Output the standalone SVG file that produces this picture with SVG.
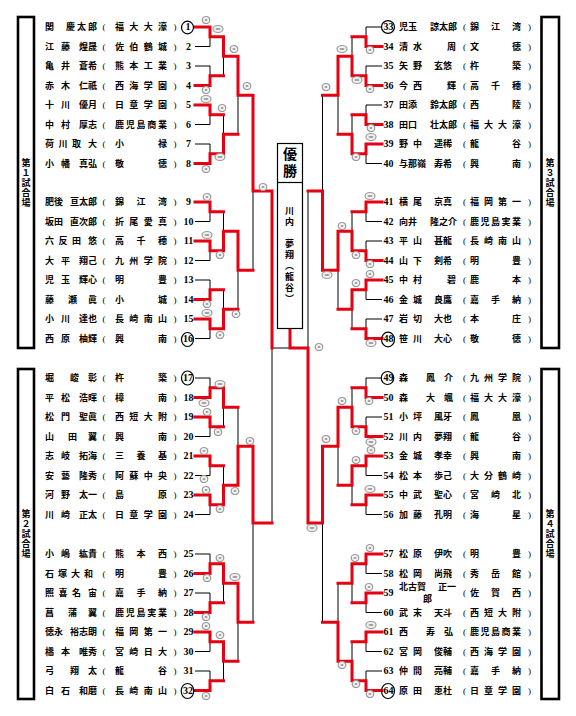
<svg xmlns="http://www.w3.org/2000/svg" width="576" height="716" viewBox="0 0 576 716">
<style>
.t{font-family:"Noto Sans CJK JP","Noto Sans CJK SC",sans-serif;font-size:9px;font-weight:bold;fill:#000}
.p{font-family:"Liberation Serif",serif;font-size:9px;text-anchor:middle;fill:#000}
.n{font-family:"Liberation Serif",serif;font-size:10px;font-weight:bold;text-anchor:middle;fill:#000}
.v{font-family:"Noto Sans CJK JP",sans-serif;font-size:9px;font-weight:bold;fill:#000;writing-mode:vertical-rl;letter-spacing:1px}
.c{fill:none;stroke:#000;stroke-width:1.2}
.box{fill:none;stroke:#000;stroke-width:2.6}
.bk{fill:none;stroke:#000;stroke-width:1}
.rd{fill:none;stroke:#e60012;stroke-width:3;stroke-linecap:square;stroke-linejoin:miter}
.w1{font-family:"Noto Sans CJK JP",sans-serif;font-size:14px;font-weight:bold;writing-mode:vertical-rl;letter-spacing:3px}
.w2{font-family:"Noto Sans CJK JP",sans-serif;font-size:9px;font-weight:bold;writing-mode:vertical-rl;letter-spacing:2px}
</style>
<defs>
<g id="sc"><ellipse rx="3.8" ry="3.5" fill="#f2f2f2" stroke="#9a9a9a" stroke-width="1.2"/><ellipse rx="1.5" ry="1.1" fill="#9a9a9a"/></g>
<g id="sw"><ellipse rx="5" ry="3.5" fill="#f2f2f2" stroke="#9a9a9a" stroke-width="1.2"/><ellipse rx="2.6" ry="1.1" fill="#9a9a9a"/></g>
</defs>
<rect width="576" height="716" fill="#fff"/>

<g id="venue1"><rect class="box" x="18" y="17" width="16" height="331"/><text class="v" x="26" y="158">第１試合場</text></g>
<g id="venue2"><rect class="box" x="18" y="369" width="16" height="330"/><text class="v" x="26" y="509">第２試合場</text></g>
<g id="venue3"><rect class="box" x="541.5" y="17" width="17.5" height="331"/><text class="v" x="550" y="158">第３試合場</text></g>
<g id="venue4"><rect class="box" x="541.5" y="369" width="17.5" height="330"/><text class="v" x="550" y="509">第４試合場</text></g>

<g id="connectors">
<path class="bk" d="M195 27H210V46.5H195M195 66H210V85.5H195M195 105H210V124.5H195M195 144H210V163.5H195M195 202H210V221.5H195M195 241H210V260.5H195M195 280H210V299.5H195M195 319H210V338.5H195M195 378H210V397.5H195M195 417H210V436.5H195M195 456H210V475.5H195M195 495H210V514.5H195M195 554H210V573.5H195M195 593H210V612.5H195M195 632H210V651.5H195M195 671H210V690.5H195M223.5 36.75V75.75M223.5 114.75V153.75M223.5 211.75V250.75M223.5 289.75V328.75M223.5 387.75V426.75M223.5 465.75V504.75M223.5 563.75V602.75M223.5 641.75V680.75M238 56.25V134.25M238 231.25V309.25M238 407.25V485.25M238 583.25V661.25M253 95.25V270.25M253 446.25V622.25M272 191V523M272 348H308"/>
<path class="bk" d="M382 27H366V46.5H382M382 66H366V85.5H382M382 105H366V124.5H382M382 144H366V163.5H382M382 202H366V221.5H382M382 241H366V260.5H382M382 280H366V299.5H382M382 319H366V338.5H382M382 378H366V397.5H382M382 417H366V436.5H382M382 456H366V475.5H382M382 495H366V514.5H382M382 554H366V573.5H382M382 593H366V612.5H382M382 632H366V651.5H382M382 671H366V690.5H382M352 36.75V75.75M352 114.75V153.75M352 211.75V250.75M352 289.75V328.75M352 387.75V426.75M352 465.75V504.75M352 563.75V602.75M352 641.75V680.75M338 56.25V134.25M338 231.25V309.25M338 407.25V485.25M338 583.25V661.25M322.5 95.25V270.25M322.5 446.25V622.25M308 191V523"/>
<path class="rd" d="M195 27H210V36.75H223.5M195 85.5H210V75.75H223.5M195 105H210V114.75H223.5M195 163.5H210V153.75H223.5M195 202H210V211.75H223.5M195 241H210V250.75H223.5M195 299.5H210V289.75H223.5M195 319H210V328.75H223.5M195 397.5H210V387.75H223.5M195 417H210V426.75H223.5M195 456H210V465.75H223.5M195 495H210V504.75H223.5M195 573.5H210V563.75H223.5M195 612.5H210V602.75H223.5M195 632H210V641.75H223.5M195 690.5H210V680.75H223.5M223.5 36.75V56.25H238M223.5 153.75V134.25H238M223.5 250.75V231.25H238M223.5 328.75V309.25H238M223.5 387.75V407.25H238M223.5 504.75V485.25H238M223.5 563.75V583.25H238M223.5 641.75V661.25H238M238 56.25V95.25H253M238 231.25V270.25H253M238 485.25V446.25H253M238 583.25V622.25H253M253 95.25V191H272M253 446.25V523H272M272 191V348"/>
<path class="rd" d="M382 46.5H366V36.75H352M382 85.5H366V75.75H352M382 124.5H366V114.75H352M382 144H366V153.75H352M382 202H366V211.75H352M382 260.5H366V250.75H352M382 280H366V289.75H352M382 338.5H366V328.75H352M382 397.5H366V387.75H352M382 436.5H366V426.75H352M382 456H366V465.75H352M382 495H366V504.75H352M382 554H366V563.75H352M382 593H366V602.75H352M382 632H366V641.75H352M382 690.5H366V680.75H352M352 75.75V56.25H338M352 153.75V134.25H338M352 250.75V231.25H338M352 289.75V309.25H338M352 426.75V407.25H338M352 465.75V485.25H338M352 563.75V583.25H338M352 680.75V661.25H338M338 56.25V95.25H322.5M338 231.25V270.25H322.5M338 407.25V446.25H322.5M338 661.25V622.25H322.5M322.5 270.25V191H308M322.5 446.25V523H308M308 523V348H290V329"/>
</g>

<g id="champion">
<rect x="277.5" y="143.5" width="25" height="185" fill="#fff" stroke="#000" stroke-width="1.2"/>
<line x1="277.5" y1="182.5" x2="302.5" y2="182.5" stroke="#000" stroke-width="1.2"/>
<text class="w1" x="290" y="147">優勝</text>
<text class="w2" x="289.5" y="206">川内　夢翔（龍谷）</text>
</g>

<g id="scores">
<use href="#sc" x="206" y="20"/><use href="#sc" x="234" y="49"/><use href="#sc" x="247" y="86"/><use href="#sc" x="206" y="90"/><use href="#sc" x="222" y="108"/><use href="#sc" x="206" y="169"/><use href="#sc" x="263" y="187"/><use href="#sc" x="207" y="197"/><use href="#sc" x="220" y="255"/><use href="#sc" x="207" y="304"/><use href="#sc" x="236" y="314"/><use href="#sc" x="220" y="335"/><use href="#sc" x="207" y="412"/><use href="#sc" x="218" y="432"/><use href="#sc" x="250" y="441"/><use href="#sc" x="204" y="451"/><use href="#sc" x="204" y="479"/><use href="#sc" x="206" y="490"/><use href="#sc" x="235" y="491"/><use href="#sc" x="220" y="509"/><use href="#sc" x="220" y="558"/><use href="#sc" x="207" y="578"/><use href="#sc" x="206" y="617"/><use href="#sc" x="206" y="626"/><use href="#sc" x="220" y="635"/><use href="#sc" x="206" y="696"/>
<use href="#sw" x="218" y="29"/><use href="#sw" x="206" y="99"/><use href="#sw" x="220" y="157"/><use href="#sw" x="207" y="235"/><use href="#sw" x="207" y="313"/><use href="#sw" x="220" y="384"/><use href="#sw" x="204" y="403"/><use href="#sw" x="235" y="577"/>
<use href="#sc" x="319" y="347"/><use href="#sc" x="326" y="439"/><use href="#sw" x="327" y="275"/><use href="#sw" x="312" y="528"/>
<use href="#sc" x="326" y="87"/><use href="#sc" x="370" y="50"/><use href="#sc" x="370" y="89"/><use href="#sc" x="371" y="128"/><use href="#sc" x="356" y="157"/><use href="#sc" x="342" y="226"/><use href="#sc" x="356" y="255"/><use href="#sc" x="370" y="264"/><use href="#sc" x="370" y="274"/><use href="#sc" x="356" y="283"/><use href="#sc" x="342" y="401"/><use href="#sc" x="369" y="401"/><use href="#sc" x="356" y="431"/><use href="#sc" x="371" y="450"/><use href="#sc" x="356" y="460"/><use href="#sc" x="370" y="548"/><use href="#sc" x="355" y="558"/><use href="#sc" x="369" y="587"/><use href="#sc" x="342" y="665"/><use href="#sc" x="356" y="684"/><use href="#sc" x="370" y="694"/>
<use href="#sw" x="342" y="49"/><use href="#sw" x="357" y="80"/><use href="#sw" x="371" y="137"/><use href="#sw" x="370" y="196"/><use href="#sw" x="371" y="343"/><use href="#sw" x="371" y="442"/><use href="#sw" x="370" y="489"/><use href="#sw" x="371" y="625"/>
</g>

<g id="p1" transform="translate(0,27)"><text class="t" x="45" y="3.4">関</text><text class="t" x="66" y="3.4" textLength="31">慶太郎</text><text class="p" x="104" y="3.2">(</text><text class="t" x="115" y="3.4" textLength="52">福大大濠</text><text class="p" x="175" y="3.2">)</text><text class="n" x="188" y="3.4">1</text><ellipse class="c" cx="187.5" cy="0.5" rx="6" ry="6.3"/></g>
<g id="p2" transform="translate(0,46.5)"><text class="t" x="45" y="3.4" textLength="25">江藤</text><text class="t" x="79" y="3.4">煌晟</text><text class="p" x="104" y="3.2">(</text><text class="t" x="115" y="3.4" textLength="52">佐伯鶴城</text><text class="p" x="175" y="3.2">)</text><text class="n" x="188.5" y="3.4">2</text></g>
<g id="p3" transform="translate(0,66)"><text class="t" x="45" y="3.4" textLength="25">亀井</text><text class="t" x="79" y="3.4">蒼希</text><text class="p" x="104" y="3.2">(</text><text class="t" x="115" y="3.4" textLength="52">熊本工業</text><text class="p" x="175" y="3.2">)</text><text class="n" x="188.5" y="3.4">3</text></g>
<g id="p4" transform="translate(0,85.5)"><text class="t" x="45" y="3.4" textLength="25">赤木</text><text class="t" x="79" y="3.4">仁祇</text><text class="p" x="104" y="3.2">(</text><text class="t" x="115" y="3.4" textLength="52">西海学園</text><text class="p" x="175" y="3.2">)</text><text class="n" x="188.5" y="3.4">4</text></g>
<g id="p5" transform="translate(0,105)"><text class="t" x="45" y="3.4" textLength="25">十川</text><text class="t" x="79" y="3.4">優月</text><text class="p" x="104" y="3.2">(</text><text class="t" x="115" y="3.4" textLength="52">日章学園</text><text class="p" x="175" y="3.2">)</text><text class="n" x="188.5" y="3.4">5</text></g>
<g id="p6" transform="translate(0,124.5)"><text class="t" x="45" y="3.4" textLength="25">中村</text><text class="t" x="79" y="3.4">厚志</text><text class="p" x="104" y="3.2">(</text><text class="t" x="115" y="3.4" textLength="52">鹿児島商業</text><text class="p" x="175" y="3.2">)</text><text class="n" x="188.5" y="3.4">6</text></g>
<g id="p7" transform="translate(0,144)"><text class="t" x="45" y="3.4" textLength="36">荷川取</text><text class="t" x="88" y="3.4">大</text><text class="p" x="104" y="3.2">(</text><text class="t" x="115" y="3.4" textLength="52">小禄</text><text class="p" x="175" y="3.2">)</text><text class="n" x="188.5" y="3.4">7</text></g>
<g id="p8" transform="translate(0,163.5)"><text class="t" x="45" y="3.4" textLength="25">小幡</text><text class="t" x="79" y="3.4">真弘</text><text class="p" x="104" y="3.2">(</text><text class="t" x="115" y="3.4" textLength="52">敬徳</text><text class="p" x="175" y="3.2">)</text><text class="n" x="188.5" y="3.4">8</text></g>
<g id="p9" transform="translate(0,202)"><text class="t" x="45" y="3.4">肥後</text><text class="t" x="70" y="3.4">亘太郎</text><text class="p" x="104" y="3.2">(</text><text class="t" x="115" y="3.4" textLength="52">錦江湾</text><text class="p" x="175" y="3.2">)</text><text class="n" x="188.5" y="3.4">9</text></g>
<g id="p10" transform="translate(0,221.5)"><text class="t" x="45" y="3.4">坂田</text><text class="t" x="70" y="3.4">直次郎</text><text class="p" x="104" y="3.2">(</text><text class="t" x="115" y="3.4" textLength="52">折尾愛真</text><text class="p" x="175" y="3.2">)</text><text class="n" x="188.5" y="3.4">10</text></g>
<g id="p11" transform="translate(0,241)"><text class="t" x="45" y="3.4" textLength="36">六反田</text><text class="t" x="88" y="3.4">悠</text><text class="p" x="104" y="3.2">(</text><text class="t" x="115" y="3.4" textLength="52">高千穂</text><text class="p" x="175" y="3.2">)</text><text class="n" x="188.5" y="3.4">11</text></g>
<g id="p12" transform="translate(0,260.5)"><text class="t" x="45" y="3.4" textLength="25">大平</text><text class="t" x="79" y="3.4">翔己</text><text class="p" x="104" y="3.2">(</text><text class="t" x="115" y="3.4" textLength="52">九州学院</text><text class="p" x="175" y="3.2">)</text><text class="n" x="188.5" y="3.4">12</text></g>
<g id="p13" transform="translate(0,280)"><text class="t" x="45" y="3.4" textLength="25">児玉</text><text class="t" x="79" y="3.4">輝心</text><text class="p" x="104" y="3.2">(</text><text class="t" x="115" y="3.4" textLength="52">明豊</text><text class="p" x="175" y="3.2">)</text><text class="n" x="188.5" y="3.4">13</text></g>
<g id="p14" transform="translate(0,299.5)"><text class="t" x="45" y="3.4" textLength="32">藤瀬</text><text class="t" x="88" y="3.4">眞</text><text class="p" x="104" y="3.2">(</text><text class="t" x="115" y="3.4" textLength="52">小城</text><text class="p" x="175" y="3.2">)</text><text class="n" x="188.5" y="3.4">14</text></g>
<g id="p15" transform="translate(0,319)"><text class="t" x="45" y="3.4" textLength="25">小川</text><text class="t" x="79" y="3.4">達也</text><text class="p" x="104" y="3.2">(</text><text class="t" x="115" y="3.4" textLength="52">長崎南山</text><text class="p" x="175" y="3.2">)</text><text class="n" x="188.5" y="3.4">15</text></g>
<g id="p16" transform="translate(0,338.5)"><text class="t" x="45" y="3.4" textLength="25">西原</text><text class="t" x="79" y="3.4">柚輝</text><text class="p" x="104" y="3.2">(</text><text class="t" x="115" y="3.4" textLength="52">興南</text><text class="p" x="175" y="3.2">)</text><text class="n" x="188" y="3.4">16</text><ellipse class="c" cx="187.5" cy="1" rx="6" ry="7"/></g>
<g id="p17" transform="translate(0,378)"><text class="t" x="45" y="3.4">堀</text><text class="t" x="70" y="3.4" textLength="27">峻彰</text><text class="p" x="104" y="3.2">(</text><text class="t" x="115" y="3.4" textLength="52">杵築</text><text class="p" x="175" y="3.2">)</text><text class="n" x="188" y="3.4">17</text><ellipse class="c" cx="187.5" cy="0" rx="6" ry="7"/></g>
<g id="p18" transform="translate(0,397.5)"><text class="t" x="45" y="3.4" textLength="25">平松</text><text class="t" x="79" y="3.4">浩暉</text><text class="p" x="104" y="3.2">(</text><text class="t" x="115" y="3.4" textLength="52">樟南</text><text class="p" x="175" y="3.2">)</text><text class="n" x="188.5" y="3.4">18</text></g>
<g id="p19" transform="translate(0,417)"><text class="t" x="45" y="3.4" textLength="25">松門</text><text class="t" x="79" y="3.4">聖眞</text><text class="p" x="104" y="3.2">(</text><text class="t" x="115" y="3.4" textLength="52">西短大附</text><text class="p" x="175" y="3.2">)</text><text class="n" x="188.5" y="3.4">19</text></g>
<g id="p20" transform="translate(0,436.5)"><text class="t" x="45" y="3.4" textLength="32">山田</text><text class="t" x="88" y="3.4">翼</text><text class="p" x="104" y="3.2">(</text><text class="t" x="115" y="3.4" textLength="52">興南</text><text class="p" x="175" y="3.2">)</text><text class="n" x="188.5" y="3.4">20</text></g>
<g id="p21" transform="translate(0,456)"><text class="t" x="45" y="3.4" textLength="25">志岐</text><text class="t" x="79" y="3.4">拓海</text><text class="p" x="104" y="3.2">(</text><text class="t" x="115" y="3.4" textLength="52">三養基</text><text class="p" x="175" y="3.2">)</text><text class="n" x="188.5" y="3.4">21</text></g>
<g id="p22" transform="translate(0,475.5)"><text class="t" x="45" y="3.4" textLength="25">安藝</text><text class="t" x="79" y="3.4">隆秀</text><text class="p" x="104" y="3.2">(</text><text class="t" x="115" y="3.4" textLength="52">阿蘇中央</text><text class="p" x="175" y="3.2">)</text><text class="n" x="188.5" y="3.4">22</text></g>
<g id="p23" transform="translate(0,495)"><text class="t" x="45" y="3.4" textLength="25">河野</text><text class="t" x="79" y="3.4">太一</text><text class="p" x="104" y="3.2">(</text><text class="t" x="115" y="3.4" textLength="52">島原</text><text class="p" x="175" y="3.2">)</text><text class="n" x="188.5" y="3.4">23</text></g>
<g id="p24" transform="translate(0,514.5)"><text class="t" x="45" y="3.4" textLength="25">川崎</text><text class="t" x="79" y="3.4">正太</text><text class="p" x="104" y="3.2">(</text><text class="t" x="115" y="3.4" textLength="52">日章学園</text><text class="p" x="175" y="3.2">)</text><text class="n" x="188.5" y="3.4">24</text></g>
<g id="p25" transform="translate(0,554)"><text class="t" x="45" y="3.4" textLength="25">小嶋</text><text class="t" x="79" y="3.4">紘貴</text><text class="p" x="104" y="3.2">(</text><text class="t" x="115" y="3.4" textLength="52">熊本西</text><text class="p" x="175" y="3.2">)</text><text class="n" x="188.5" y="3.4">25</text></g>
<g id="p26" transform="translate(0,573.5)"><text class="t" x="45" y="3.4" textLength="48">石塚大和</text><text class="p" x="104" y="3.2">(</text><text class="t" x="115" y="3.4" textLength="52">明豊</text><text class="p" x="175" y="3.2">)</text><text class="n" x="188.5" y="3.4">26</text></g>
<g id="p27" transform="translate(0,593)"><text class="t" x="45" y="3.4" textLength="36">照喜名</text><text class="t" x="88" y="3.4">宙</text><text class="p" x="104" y="3.2">(</text><text class="t" x="115" y="3.4" textLength="52">嘉手納</text><text class="p" x="175" y="3.2">)</text><text class="n" x="188.5" y="3.4">27</text></g>
<g id="p28" transform="translate(0,612.5)"><text class="t" x="45" y="3.4" textLength="32">菖蒲</text><text class="t" x="88" y="3.4">翼</text><text class="p" x="104" y="3.2">(</text><text class="t" x="115" y="3.4" textLength="52">鹿児島実業</text><text class="p" x="175" y="3.2">)</text><text class="n" x="188.5" y="3.4">28</text></g>
<g id="p29" transform="translate(0,632)"><text class="t" x="45" y="3.4">徳永</text><text class="t" x="70" y="3.4">裕志朗</text><text class="p" x="104" y="3.2">(</text><text class="t" x="115" y="3.4" textLength="52">福岡第一</text><text class="p" x="175" y="3.2">)</text><text class="n" x="188.5" y="3.4">29</text></g>
<g id="p30" transform="translate(0,651.5)"><text class="t" x="45" y="3.4" textLength="25">橋本</text><text class="t" x="79" y="3.4">唯秀</text><text class="p" x="104" y="3.2">(</text><text class="t" x="115" y="3.4" textLength="52">宮崎日大</text><text class="p" x="175" y="3.2">)</text><text class="n" x="188.5" y="3.4">30</text></g>
<g id="p31" transform="translate(0,671)"><text class="t" x="45" y="3.4">弓</text><text class="t" x="70" y="3.4" textLength="27">翔太</text><text class="p" x="104" y="3.2">(</text><text class="t" x="115" y="3.4" textLength="52">龍谷</text><text class="p" x="175" y="3.2">)</text><text class="n" x="188.5" y="3.4">31</text></g>
<g id="p32" transform="translate(0,690.5)"><text class="t" x="45" y="3.4" textLength="25">白石</text><text class="t" x="79" y="3.4">和磨</text><text class="p" x="104" y="3.2">(</text><text class="t" x="115" y="3.4" textLength="52">長崎南山</text><text class="p" x="175" y="3.2">)</text><text class="n" x="188" y="3.4">32</text><ellipse class="c" cx="187.5" cy="0.5" rx="6.3" ry="7.5"/></g>

<g id="p33" transform="translate(0,27)"><text class="n" x="388.5" y="3.4">33</text><ellipse class="c" cx="388" cy="0" rx="6.5" ry="6.3"/><text class="t" x="399" y="3.4">児玉</text><text class="t" x="430" y="3.4">諒太郎</text><text class="p" x="464.5" y="3.2">(</text><text class="t" x="470" y="3.4" textLength="51">錦江湾</text><text class="p" x="529.5" y="3.2">)</text></g>
<g id="p34" transform="translate(0,46.5)"><text class="n" x="388.5" y="3.4">34</text><text class="t" x="399" y="3.4" textLength="23">清水</text><text class="t" x="447" y="3.4">周</text><text class="p" x="464.5" y="3.2">(</text><text class="t" x="470" y="3.4" textLength="51">文徳</text><text class="p" x="529.5" y="3.2">)</text></g>
<g id="p35" transform="translate(0,66)"><text class="n" x="388.5" y="3.4">35</text><text class="t" x="399" y="3.4" textLength="23">矢野</text><text class="t" x="434" y="3.4">玄悠</text><text class="p" x="464.5" y="3.2">(</text><text class="t" x="470" y="3.4" textLength="51">杵築</text><text class="p" x="529.5" y="3.2">)</text></g>
<g id="p36" transform="translate(0,85.5)"><text class="n" x="388.5" y="3.4">36</text><text class="t" x="399" y="3.4" textLength="23">今西</text><text class="t" x="447" y="3.4">輝</text><text class="p" x="464.5" y="3.2">(</text><text class="t" x="470" y="3.4" textLength="51">高千穂</text><text class="p" x="529.5" y="3.2">)</text></g>
<g id="p37" transform="translate(0,105)"><text class="n" x="388.5" y="3.4">37</text><text class="t" x="399" y="3.4">田添</text><text class="t" x="430" y="3.4">鈴太郎</text><text class="p" x="464.5" y="3.2">(</text><text class="t" x="470" y="3.4" textLength="51">西陵</text><text class="p" x="529.5" y="3.2">)</text></g>
<g id="p38" transform="translate(0,124.5)"><text class="n" x="388.5" y="3.4">38</text><text class="t" x="399" y="3.4">田口</text><text class="t" x="430" y="3.4">壮太郎</text><text class="p" x="464.5" y="3.2">(</text><text class="t" x="470" y="3.4" textLength="51">福大大濠</text><text class="p" x="529.5" y="3.2">)</text></g>
<g id="p39" transform="translate(0,144)"><text class="n" x="388.5" y="3.4">39</text><text class="t" x="399" y="3.4" textLength="23">野中</text><text class="t" x="434" y="3.4">遥稀</text><text class="p" x="464.5" y="3.2">(</text><text class="t" x="470" y="3.4" textLength="51">龍谷</text><text class="p" x="529.5" y="3.2">)</text></g>
<g id="p40" transform="translate(0,163.5)"><text class="n" x="388.5" y="3.4">40</text><text class="t" x="399" y="3.4">与那嶺</text><text class="t" x="434" y="3.4">寿希</text><text class="p" x="464.5" y="3.2">(</text><text class="t" x="470" y="3.4" textLength="51">興南</text><text class="p" x="529.5" y="3.2">)</text></g>
<g id="p41" transform="translate(0,202)"><text class="n" x="388.5" y="3.4">41</text><text class="t" x="399" y="3.4" textLength="23">横尾</text><text class="t" x="434" y="3.4">京真</text><text class="p" x="464.5" y="3.2">(</text><text class="t" x="470" y="3.4" textLength="51">福岡第一</text><text class="p" x="529.5" y="3.2">)</text></g>
<g id="p42" transform="translate(0,221.5)"><text class="n" x="388.5" y="3.4">42</text><text class="t" x="399" y="3.4">向井</text><text class="t" x="430" y="3.4">隆之介</text><text class="p" x="464.5" y="3.2">(</text><text class="t" x="470" y="3.4" textLength="51">鹿児島実業</text><text class="p" x="529.5" y="3.2">)</text></g>
<g id="p43" transform="translate(0,241)"><text class="n" x="388.5" y="3.4">43</text><text class="t" x="399" y="3.4" textLength="23">平山</text><text class="t" x="434" y="3.4">甚龍</text><text class="p" x="464.5" y="3.2">(</text><text class="t" x="470" y="3.4" textLength="51">長崎南山</text><text class="p" x="529.5" y="3.2">)</text></g>
<g id="p44" transform="translate(0,260.5)"><text class="n" x="388.5" y="3.4">44</text><text class="t" x="399" y="3.4" textLength="23">山下</text><text class="t" x="434" y="3.4">剣希</text><text class="p" x="464.5" y="3.2">(</text><text class="t" x="470" y="3.4" textLength="51">明豊</text><text class="p" x="529.5" y="3.2">)</text></g>
<g id="p45" transform="translate(0,280)"><text class="n" x="388.5" y="3.4">45</text><text class="t" x="399" y="3.4" textLength="23">中村</text><text class="t" x="447" y="3.4">碧</text><text class="p" x="464.5" y="3.2">(</text><text class="t" x="470" y="3.4" textLength="51">鹿本</text><text class="p" x="529.5" y="3.2">)</text></g>
<g id="p46" transform="translate(0,299.5)"><text class="n" x="388.5" y="3.4">46</text><text class="t" x="399" y="3.4" textLength="23">金城</text><text class="t" x="434" y="3.4">良鷹</text><text class="p" x="464.5" y="3.2">(</text><text class="t" x="470" y="3.4" textLength="51">嘉手納</text><text class="p" x="529.5" y="3.2">)</text></g>
<g id="p47" transform="translate(0,319)"><text class="n" x="388.5" y="3.4">47</text><text class="t" x="399" y="3.4" textLength="23">岩切</text><text class="t" x="434" y="3.4">大也</text><text class="p" x="464.5" y="3.2">(</text><text class="t" x="470" y="3.4" textLength="51">本庄</text><text class="p" x="529.5" y="3.2">)</text></g>
<g id="p48" transform="translate(0,338.5)"><text class="n" x="388.5" y="3.4">48</text><ellipse class="c" cx="388" cy="1" rx="6.5" ry="7.3"/><text class="t" x="399" y="3.4" textLength="23">笹川</text><text class="t" x="434" y="3.4">大心</text><text class="p" x="464.5" y="3.2">(</text><text class="t" x="470" y="3.4" textLength="51">敬徳</text><text class="p" x="529.5" y="3.2">)</text></g>
<g id="p49" transform="translate(0,378)"><text class="n" x="388.5" y="3.4">49</text><ellipse class="c" cx="387.5" cy="0" rx="6.3" ry="6.5"/><text class="t" x="399" y="3.4">森</text><text class="t" x="426" y="3.4" textLength="27">鳳介</text><text class="p" x="464.5" y="3.2">(</text><text class="t" x="470" y="3.4" textLength="51">九州学院</text><text class="p" x="529.5" y="3.2">)</text></g>
<g id="p50" transform="translate(0,397.5)"><text class="n" x="388.5" y="3.4">50</text><text class="t" x="399" y="3.4">森</text><text class="t" x="426" y="3.4" textLength="27">大颯</text><text class="p" x="464.5" y="3.2">(</text><text class="t" x="470" y="3.4" textLength="51">福大大濠</text><text class="p" x="529.5" y="3.2">)</text></g>
<g id="p51" transform="translate(0,417)"><text class="n" x="388.5" y="3.4">51</text><text class="t" x="399" y="3.4" textLength="23">小坪</text><text class="t" x="434" y="3.4">風牙</text><text class="p" x="464.5" y="3.2">(</text><text class="t" x="470" y="3.4" textLength="51">鳳凰</text><text class="p" x="529.5" y="3.2">)</text></g>
<g id="p52" transform="translate(0,436.5)"><text class="n" x="388.5" y="3.4">52</text><text class="t" x="399" y="3.4" textLength="23">川内</text><text class="t" x="434" y="3.4">夢翔</text><text class="p" x="464.5" y="3.2">(</text><text class="t" x="470" y="3.4" textLength="51">龍谷</text><text class="p" x="529.5" y="3.2">)</text></g>
<g id="p53" transform="translate(0,456)"><text class="n" x="388.5" y="3.4">53</text><text class="t" x="399" y="3.4" textLength="23">金城</text><text class="t" x="434" y="3.4">孝幸</text><text class="p" x="464.5" y="3.2">(</text><text class="t" x="470" y="3.4" textLength="51">興南</text><text class="p" x="529.5" y="3.2">)</text></g>
<g id="p54" transform="translate(0,475.5)"><text class="n" x="388.5" y="3.4">54</text><text class="t" x="399" y="3.4" textLength="23">松本</text><text class="t" x="434" y="3.4">歩己</text><text class="p" x="464.5" y="3.2">(</text><text class="t" x="470" y="3.4" textLength="51">大分鶴崎</text><text class="p" x="529.5" y="3.2">)</text></g>
<g id="p55" transform="translate(0,495)"><text class="n" x="388.5" y="3.4">55</text><text class="t" x="399" y="3.4" textLength="23">中武</text><text class="t" x="434" y="3.4">聖心</text><text class="p" x="464.5" y="3.2">(</text><text class="t" x="470" y="3.4" textLength="51">宮崎北</text><text class="p" x="529.5" y="3.2">)</text></g>
<g id="p56" transform="translate(0,514.5)"><text class="n" x="388.5" y="3.4">56</text><text class="t" x="399" y="3.4" textLength="23">加藤</text><text class="t" x="434" y="3.4">孔明</text><text class="p" x="464.5" y="3.2">(</text><text class="t" x="470" y="3.4" textLength="51">海星</text><text class="p" x="529.5" y="3.2">)</text></g>
<g id="p57" transform="translate(0,554)"><text class="n" x="388.5" y="3.4">57</text><text class="t" x="399" y="3.4" textLength="23">松原</text><text class="t" x="434" y="3.4">伊吹</text><text class="p" x="464.5" y="3.2">(</text><text class="t" x="470" y="3.4" textLength="51">明豊</text><text class="p" x="529.5" y="3.2">)</text></g>
<g id="p58" transform="translate(0,573.5)"><text class="n" x="388.5" y="3.4">58</text><text class="t" x="399" y="3.4" textLength="23">松岡</text><text class="t" x="434" y="3.4">尚飛</text><text class="p" x="464.5" y="3.2">(</text><text class="t" x="470" y="3.4" textLength="51">秀岳館</text><text class="p" x="529.5" y="3.2">)</text></g>
<g id="p59" transform="translate(0,593)"><text class="n" x="388.5" y="3.4">59</text><text class="t" x="399" y="-2.6">北古賀</text><text class="t" x="438" y="-2.6">正一</text><text class="t" x="423" y="8.6">郎</text><text class="p" x="464.5" y="3.2">(</text><text class="t" x="470" y="3.4" textLength="51">佐賀西</text><text class="p" x="529.5" y="3.2">)</text></g>
<g id="p60" transform="translate(0,612.5)"><text class="n" x="388.5" y="3.4">60</text><text class="t" x="399" y="3.4" textLength="23">武末</text><text class="t" x="434" y="3.4">天斗</text><text class="p" x="464.5" y="3.2">(</text><text class="t" x="470" y="3.4" textLength="51">西短大附</text><text class="p" x="529.5" y="3.2">)</text></g>
<g id="p61" transform="translate(0,632)"><text class="n" x="388.5" y="3.4">61</text><text class="t" x="399" y="3.4">西</text><text class="t" x="426" y="3.4" textLength="27">寿弘</text><text class="p" x="464.5" y="3.2">(</text><text class="t" x="470" y="3.4" textLength="51">鹿児島商業</text><text class="p" x="529.5" y="3.2">)</text></g>
<g id="p62" transform="translate(0,651.5)"><text class="n" x="388.5" y="3.4">62</text><text class="t" x="399" y="3.4" textLength="23">宮岡</text><text class="t" x="434" y="3.4">俊輔</text><text class="p" x="464.5" y="3.2">(</text><text class="t" x="470" y="3.4" textLength="51">西海学園</text><text class="p" x="529.5" y="3.2">)</text></g>
<g id="p63" transform="translate(0,671)"><text class="n" x="388.5" y="3.4">63</text><text class="t" x="399" y="3.4" textLength="23">仲間</text><text class="t" x="434" y="3.4">亮輔</text><text class="p" x="464.5" y="3.2">(</text><text class="t" x="470" y="3.4" textLength="51">嘉手納</text><text class="p" x="529.5" y="3.2">)</text></g>
<g id="p64" transform="translate(0,690.5)"><text class="n" x="388.5" y="3.4">64</text><ellipse class="c" cx="388" cy="0.5" rx="6.5" ry="7.5"/><text class="t" x="399" y="3.4" textLength="23">原田</text><text class="t" x="434" y="3.4">恵杜</text><text class="p" x="464.5" y="3.2">(</text><text class="t" x="470" y="3.4" textLength="51">日章学園</text><text class="p" x="529.5" y="3.2">)</text></g>
</svg>
